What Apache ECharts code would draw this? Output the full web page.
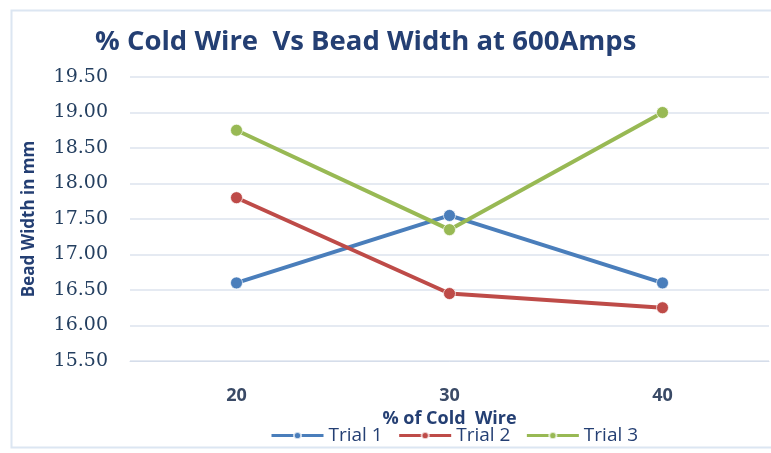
<!DOCTYPE html>
<html><head><meta charset="utf-8">
<script src="https://cdn.jsdelivr.net/npm/echarts@6/dist/echarts.min.js"></script>
<style>html,body{margin:0;padding:0;background:#fff}#c{width:771px;height:453px}</style>
</head><body><div id="c"></div>
<script>
const categories = ['20', '30', '40'];
const trial1 = [16.60, 17.55, 16.60];
const trial2 = [17.80, 16.45, 16.25];
const trial3 = [18.75, 17.35, 19.00];
const seriesNames = ['Trial 1', 'Trial 2', 'Trial 3'];
const colors = ['#4A7EBB', '#BE4B48', '#98B954'];

const chart = echarts.init(document.getElementById('c'));
function mk(name, data, color) {
  return {
    name: name, type: 'line', data: data,
    symbol: 'circle', symbolSize: 12,
    lineStyle: { width: 4, color: color },
    itemStyle: { color: color, borderColor: 'rgba(255,255,255,0.7)', borderWidth: 1 },
    emphasis: { disabled: true }
  };
}
chart.setOption({
  animation: false,
  backgroundColor: '#fff',
  graphic: [{
    type: 'rect', left: 9, top: 8, z: -10,
    shape: { width: 780, height: 437 },
    style: { fill: 'none', stroke: '#DCE6F2', lineWidth: 2 }
  }],
  title: {
    text: '% Cold Wire  Vs Bead Width at 600Amps',
    left: 90, top: 23,
    textStyle: { fontFamily: 'Open Sans', fontWeight: 'bold', fontSize: 27.5, color: '#243F73' }
  },
  grid: { left: 130, right: 2, top: 77, bottom: 92 },
  legend: {
    bottom: 3, left: 265, itemWidth: 52, itemHeight: 9, itemGap: 15,
    lineStyle: { width: 3 },
    textStyle: { fontFamily: 'Open Sans', fontSize: 19, color: '#243F73' },
    data: seriesNames
  },
  xAxis: {
    type: 'category', data: categories, boundaryGap: true,
    name: '% of Cold  Wire', nameLocation: 'middle', nameGap: 46,
    nameTextStyle: { fontFamily: 'Open Sans', fontWeight: 'bold', fontSize: 18, color: '#243F73' },
    axisLine: { lineStyle: { color: '#D5DDEA', width: 1 } },
    axisTick: { show: false },
    axisLabel: { margin: 26, fontFamily: 'Open Sans', fontSize: 18, fontWeight: 'bold', color: '#3A4A66' }
  },
  yAxis: {
    type: 'value', min: 15.5, max: 19.5, interval: 0.5,
    name: 'Bead Width in mm', nameLocation: 'middle', nameGap: 92, nameRotate: 90,
    nameTextStyle: { fontFamily: 'Open Sans', fontWeight: 'bold', fontSize: 17, color: '#243F73' },
    axisLine: { show: false }, axisTick: { show: false },
    splitLine: { lineStyle: { color: '#DCE3EE', width: 1.5 } },
    axisLabel: {
      margin: 22, fontFamily: 'DejaVu Serif', fontSize: 19, color: '#243F60',
      formatter: v => v.toFixed(2)
    }
  },
  series: [mk(seriesNames[0], trial1, colors[0]), mk(seriesNames[1], trial2, colors[1]), mk(seriesNames[2], trial3, colors[2])]
});
</script></body></html>
